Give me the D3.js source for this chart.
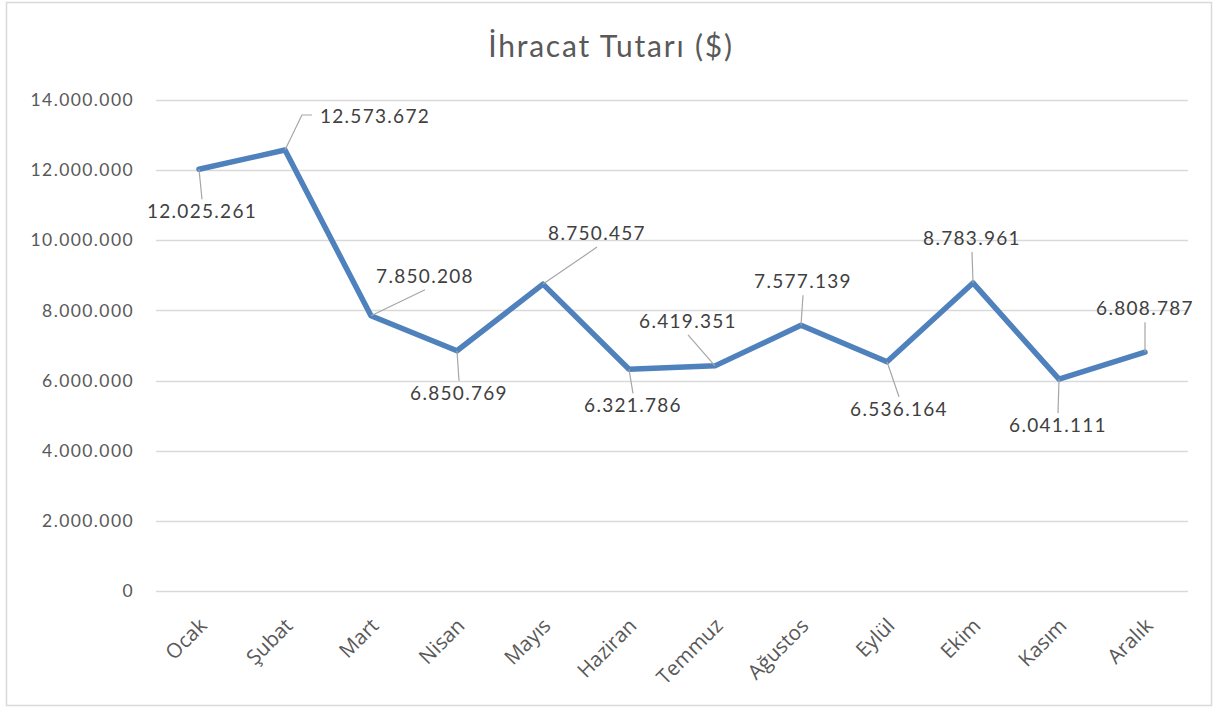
<!DOCTYPE html>
<html>
<head>
<meta charset="utf-8">
<script src="https://cdn.jsdelivr.net/npm/d3@7"></script>
<style>
  html, body { margin: 0; padding: 0; background: #fff; }
  svg { display: block; }
</style>
</head>
<body>
<svg id="chart"></svg>
<script>
// ---- data ----
const months = ['Ocak', 'Şubat', 'Mart', 'Nisan', 'Mayıs', 'Haziran',
                'Temmuz', 'Ağustos', 'Eylül', 'Ekim', 'Kasım', 'Aralık'];
const values = [12025261, 12573672, 7850208, 6850769, 8750457, 6321786,
                6419351, 7577139, 6536164, 8783961, 6041111, 6808787];
const yTicks = [0, 2000000, 4000000, 6000000, 8000000, 10000000, 12000000, 14000000];

// label placement relative to the point (px), like the manually moved labels
const labelOffsets = [
  [3, 43], [90, -33], [54, -39], [2, 43], [54, -50], [4, 37],
  [-27, -44], [2, -43], [12, 48], [-1, -44], [-1, 47], [0, -43]
];
const elbowLabel = [false, true, false, false, false, false,
                    false, false, false, false, false, false];

const W = 1217, H = 709;
const margin = { top: 100, left: 156, right: W - 1188, bottom: H - 591 };
const grey = '#595959';
const numFont = 'Lato, "Open Sans", sans-serif';

const svg = d3.select('#chart').attr('width', W).attr('height', H);

// outer frame
svg.append('rect')
  .attr('x', 6.5).attr('y', 2.5)
  .attr('width', 1205).attr('height', 703)
  .attr('fill', '#fff')
  .attr('stroke', '#d9d9d9')
  .attr('stroke-width', 1.5);

// title
svg.append('text')
  .attr('x', 611).attr('y', 57)
  .attr('text-anchor', 'middle')
  .attr('font-family', numFont)
  .attr('font-size', 30)
  .attr('letter-spacing', 1.8)
  .attr('fill', grey)
  .text('İhracat Tutarı ($)');

const x = d3.scaleBand()
  .domain(months)
  .range([margin.left, W - margin.right]);

const y = d3.scaleLinear()
  .domain([0, 14000000])
  .range([H - margin.bottom, margin.top]);

const fmt = d3.formatLocale({ decimal: ',', thousands: '.', grouping: [3], currency: ['', ''] }).format(',d');

// grid
svg.append('g')
  .selectAll('line.grid')
  .data(yTicks)
  .enter()
  .append('line')
  .attr('class', 'grid')
  .attr('x1', margin.left)
  .attr('x2', W - margin.right)
  .attr('y1', (d) => Math.round(y(d)) + 0.5)
  .attr('y2', (d) => Math.round(y(d)) + 0.5)
  .attr('stroke', '#d9d9d9')
  .attr('stroke-width', 1.5);

// y axis
const yAxis = svg.append('g')
  .attr('transform', 'translate(' + (margin.left - 22) + ',0)')
  .call(d3.axisLeft(y).tickValues(yTicks).tickFormat(fmt).tickSize(0).tickPadding(0));
yAxis.select('.domain').remove();
yAxis.selectAll('text')
  .attr('font-family', numFont)
  .attr('font-size', 17.5)
  .attr('letter-spacing', 1.4)
  .attr('fill', grey);

// x axis
const xAxis = svg.append('g')
  .attr('transform', 'translate(0,' + (H - margin.bottom) + ')')
  .call(d3.axisBottom(x).tickSize(0).tickPadding(0));
xAxis.select('.domain').remove();
xAxis.selectAll('text')
  .attr('font-family', '"Open Sans", "Noto Sans", sans-serif')
  .attr('font-size', 20.5)
  .attr('fill', grey)
  .attr('text-anchor', 'end')
  .attr('dy', 0)
  .attr('transform', 'translate(9,36) rotate(-45)');

const px = (i) => x(months[i]) + x.bandwidth() / 2;

// line
svg.append('path')
  .datum(values)
  .attr('fill', 'none')
  .attr('stroke', '#4f81bd')
  .attr('stroke-width', 5.5)
  .attr('stroke-linejoin', 'round')
  .attr('stroke-linecap', 'round')
  .attr('d', d3.line().x((d, i) => px(i)).y((d) => y(d)));

// data labels + leader lines
const labels = svg.append('g');
const labelH = 18;
values.forEach((v, i) => {
  const x0 = px(i), y0 = y(v);
  const dx = labelOffsets[i][0], dy = labelOffsets[i][1];
  const cx = x0 + dx, cy = y0 + dy;
  const t = labels.append('text')
    .attr('x', cx).attr('y', cy + 6)
    .attr('text-anchor', 'middle')
    .attr('font-family', numFont)
    .attr('font-size', 19)
    .attr('letter-spacing', 1.3)
    .attr('fill', '#404040')
    .text(fmt(v));
  const tw = t.node().getComputedTextLength();
  let pts;
  if (elbowLabel[i]) {
    // elbow to the side of the label
    const ex = cx - Math.sign(dx) * (tw / 2 + 8);
    pts = [[x0, y0], [ex - Math.sign(dx) * 10, cy - 2], [ex, cy - 2]];
  } else {
    const ey = dy > 0 ? cy - labelH / 2 - 4 : cy + labelH / 2 + 4;
    pts = [[x0, y0], [cx, ey]];
  }
  labels.append('path')
    .attr('d', d3.line()(pts))
    .attr('fill', 'none')
    .attr('stroke', '#a6a6a6')
    .attr('stroke-width', 1.2);
});
</script>
</body>
</html>
